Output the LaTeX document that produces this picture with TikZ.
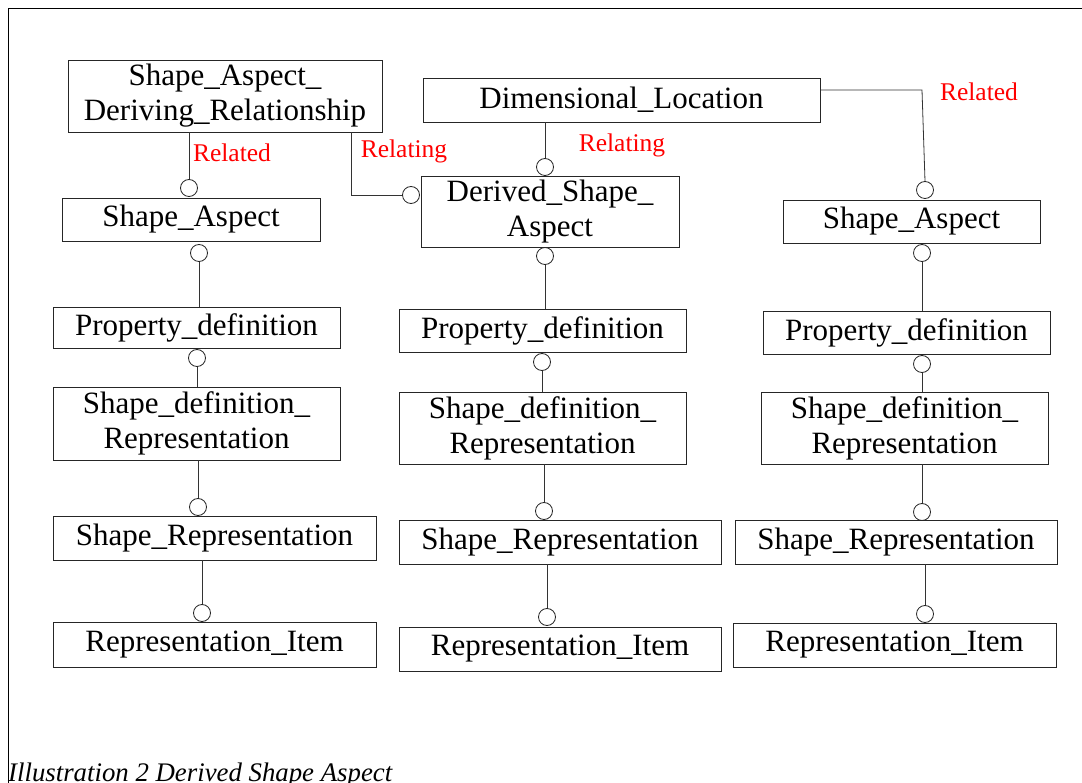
\documentclass[tikz,border=0pt]{standalone}
\usepackage{fontspec}
\setmainfont{Liberation Serif}
\usetikzlibrary{positioning}
\usepackage{xcolor}

\begin{document}
\begin{tikzpicture}[x=1pt, y=-1pt,
    box/.style={draw=black!85, line width=0.9pt, inner sep=0pt, align=center,
                font=\fontsize{31}{35}\selectfont},
    ring/.style={circle, draw=black!85, line width=0.8pt, minimum size=17pt, inner sep=0pt},
    link/.style={draw=black!80, line width=0.8pt},
    role/.style={text=red, font=\fontsize{25.5}{28}\selectfont}]
                \useasboundingbox (0,0) rectangle (1082,783);

                % Frame round the drawing
                \draw[line width=1pt] (8,783) -- (8,9) -- (1082,9);

                % Draw boxes for the left column
                \node[box, minimum width=314pt, minimum height=72pt] (sadr) at (225,96) {Shape\_Aspect\_\\Deriving\_Relationship};
                \node[box, minimum width=258pt, minimum height=43pt] (saL) at (191,219.5) {Shape\_Aspect};
                \node[box, minimum width=287pt, minimum height=41pt] (pdL) at (196.5,327.5) {Property\_definition};
                \node[box, minimum width=287pt, minimum height=73pt] (sdrL) at (196.5,423.5) {Shape\_definition\_\\Representation};
                \node[box, minimum width=323pt, minimum height=44pt] (srL) at (214.5,538) {Shape\_Representation};
                \node[box, minimum width=323pt, minimum height=45pt] (riL) at (214.5,644.5) {Representation\_Item};

                % Draw boxes for the middle column
                \node[box, minimum width=397pt, minimum height=44pt] (dl) at (621.5,100) {Dimensional\_Location};
                \node[box, minimum width=258pt, minimum height=71pt] (dsa) at (550,211.5) {Derived\_Shape\_\\Aspect};
                \node[box, minimum width=287pt, minimum height=43pt] (pdM) at (542.5,330.5) {Property\_definition};
                \node[box, minimum width=287pt, minimum height=72pt] (sdrM) at (542.5,428) {Shape\_definition\_\\Representation};
                \node[box, minimum width=322pt, minimum height=44pt] (srM) at (560,542) {Shape\_Representation};
                \node[box, minimum width=322pt, minimum height=44pt] (riM) at (560,649) {Representation\_Item};

                % Draw boxes for the right column
                \node[box, minimum width=257pt, minimum height=43pt] (saR) at (911.5,221.5) {Shape\_Aspect};
                \node[box, minimum width=287pt, minimum height=43pt] (pdR) at (906.5,332.5) {Property\_definition};
                \node[box, minimum width=287pt, minimum height=72pt] (sdrR) at (904.5,428) {Shape\_definition\_\\Representation};
                \node[box, minimum width=322pt, minimum height=44pt] (srR) at (896,542) {Shape\_Representation};
                \node[box, minimum width=323pt, minimum height=44pt] (riR) at (894.5,645) {Representation\_Item};

                % Draw the open circles at the line ends
                \node[ring] (oSaL) at (189,188) {};
                \node[ring] (oPdL) at (199,253) {};
                \node[ring] (oSdrL) at (197,358) {};
                \node[ring] (oSrL) at (198,507) {};
                \node[ring] (oRiL) at (202,613) {};
                \node[ring] (oDsaTop) at (545,167) {};
                \node[ring] (oDsaLeft) at (411,195) {};
                \node[ring] (oPdM) at (545,256) {};
                \node[ring] (oSdrM) at (542,362) {};
                \node[ring] (oSrM) at (544,511) {};
                \node[ring] (oRiM) at (547,617) {};
                \node[ring] (oSaR) at (925,190) {};
                \node[ring] (oPdR) at (922,253) {};
                \node[ring] (oSdrR) at (922,364) {};
                \node[ring] (oSrR) at (922,512) {};
                \node[ring] (oRiR) at (925,614) {};

                % Draw lines of the left column
                \draw[link] (oSaL |- sadr.south) -- (oSaL);
                \draw[link] (oPdL) -- (oPdL |- pdL.north);
                \draw[link] (oSdrL) -- (oSdrL |- sdrL.north);
                \draw[link] (oSrL |- sdrL.south) -- (oSrL);
                \draw[link] (oRiL |- srL.south) -- (oRiL);

                % Draw lines of the middle column
                \draw[link] (351,0 |- sadr.south) |- (oDsaLeft);
                \draw[link] (oDsaTop |- dl.south) -- (oDsaTop);
                \draw[link] (oPdM) -- (oPdM |- pdM.north);
                \draw[link] (oSdrM) -- (oSdrM |- sdrM.north);
                \draw[link] (oSrM |- sdrM.south) -- (oSrM);
                \draw[link] (oRiM |- srM.south) -- (oRiM);

                % Draw lines of the right column
                \draw[link] (dl.east |- 0,90) -- (922,90) -- (oSaR.north);
                \draw[link] (oPdR) -- (oPdR |- pdR.north);
                \draw[link] (oSdrR) -- (oSdrR |- sdrR.north);
                \draw[link] (oSrR |- sdrR.south) -- (oSrR);
                \draw[link] (oRiR |- srR.south) -- (oRiR);

                % Role names
                \node[role] (relatedL) at (232,153) {Related};
                \node[role] (relatingL) at (404,151) {Relating};
                \node[role] (relatingM) at (622,145) {Relating};
                \node[role] (relatedR) at (979,92) {Related};

                % Caption
                \node[anchor=base west, inner sep=0pt, font=\fontsize{26.8}{30}\selectfont\itshape] (caption) at (8,781) {Illustration 2 Derived Shape Aspect};
            \end{tikzpicture}
\end{document}
